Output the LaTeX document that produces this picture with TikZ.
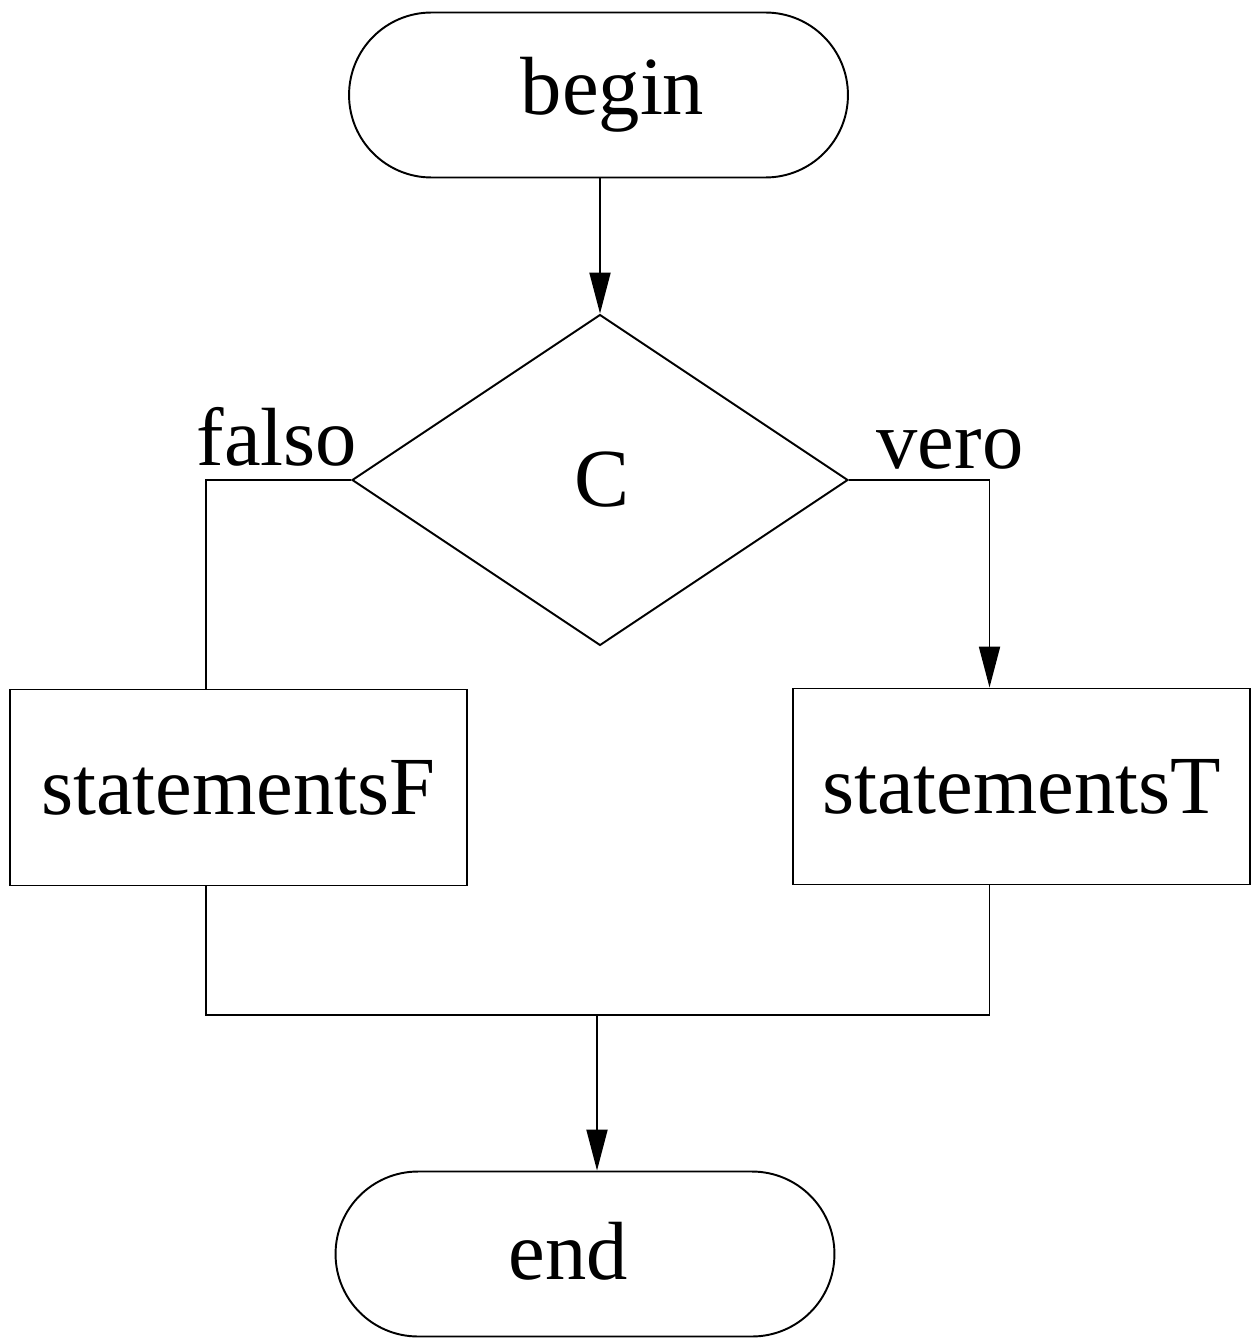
\documentclass[tikz,border=0pt]{standalone}
\usepackage{fontspec}
\setmainfont{Liberation Serif}
\usetikzlibrary{arrows.meta,shapes.geometric}
\begin{document}
\begin{tikzpicture}[x=0.02cm,y=-0.02cm,
  every node/.style={font=\fontsize{47}{56}\selectfont},
  conn/.style={line width=1.1pt},
  arr/.style={conn,-{Triangle[length=0.82cm,width=0.42cm]}},
  terminal/.style={draw,line width=1.1pt,rectangle,rounded corners=1.65cm,minimum width=9.98cm,minimum height=3.3cm,inner sep=0pt},
  stmt/.style={draw,line width=1.1pt,rectangle,minimum width=9.14cm,minimum height=3.92cm,inner sep=0pt},
  decision/.style={draw,line width=1.1pt,diamond,minimum width=9.92cm,minimum height=6.62cm,inner sep=0pt}]
\useasboundingbox (0,0) rectangle (1251,1338);
\node[terminal] (begin) at (598.5,95) {\hspace*{0.56cm}begin};
\node[decision] (dia) at (600,480) {\hspace*{0.08cm}\raisebox{-0.04cm}{C}};
\node[stmt] (sF) at (238.5,787.5) {statementsF};
\node[stmt] (sT) at (1021.5,786.5) {statementsT};
\node[terminal] (end) at (585,1254) {\raisebox{0.14cm}{end}\hspace*{0.68cm}};
\node[anchor=base,inner sep=0pt] (lf) at (277,465) {falso};
\node[anchor=base,inner sep=0pt] (lv) at (950,468) {vero};
\coordinate (j) at (597,1015);
\draw[arr] (begin.south -| dia.north) -- (dia.north);
\draw[conn] (dia.west) -| ([xshift=-0.65cm]sF.north);
\draw[arr] (dia.east) -| ([xshift=-0.64cm]sT.north);
\draw[conn] ([xshift=-0.65cm]sF.south) |- (j) -| ([xshift=-0.64cm]sT.south);
\draw[arr] (j) -- (j |- end.north);
\end{tikzpicture}
\end{document}
